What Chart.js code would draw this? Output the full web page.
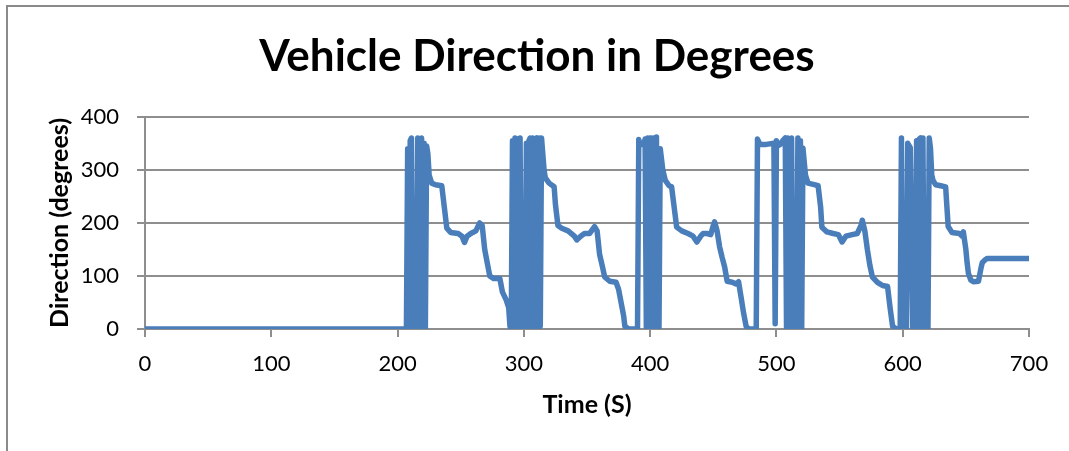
<!DOCTYPE html>
<html>
<head>
<meta charset="utf-8">
<script src="https://cdn.jsdelivr.net/npm/chart.js@4/dist/chart.umd.min.js"></script>
<style>
  html, body { margin: 0; padding: 0; background: #ffffff; }
  #wrap { width: 1069px; height: 451px; position: relative; }
</style>
</head>
<body>
<div id="wrap"><canvas id="c" width="1069" height="451"></canvas></div>
<script>
// Time stamps (seconds) of the heading samples
const timeSec = [
  0, 207,
  208, 209, 210, 211, 212, 215, 216, 217, 218, 219, 220, 221, 222, 223, 224, 225, 227, 230, 235,
  237, 239, 242, 248, 251, 253, 255, 258, 262, 265, 267, 269, 271, 273, 276, 281, 283, 286, 288, 289, 290,
  291, 292, 293, 294, 295, 296, 297, 298, 301, 302, 303, 304, 305, 306, 307, 308, 309, 310, 311, 312, 313, 314,
  315, 316, 317, 320, 324, 325, 327, 330, 335, 340, 342, 345, 348, 352, 356, 358, 360, 362, 364, 368, 373,
  375, 377, 379, 380, 383, 390,
  391, 392, 395, 396, 397, 398, 399, 400, 401, 402, 403, 404, 405, 406, 407, 408, 410, 412, 415, 417, 419,
  421, 425, 430, 434, 437, 440, 442, 445, 448, 450, 451, 453, 455, 457, 459, 461, 465, 468, 470, 472, 474,
  476, 478, 484,
  485, 487, 492, 498, 499, 500, 501, 503, 505, 507, 508, 509, 510, 511, 512, 513, 516, 517, 518, 519, 520,
  521, 523, 525, 530, 533, 535, 536, 540, 545, 549, 552, 555, 560, 564, 567, 568, 570, 572, 574, 576, 580,
  584, 588, 590, 592, 595, 598,
  599, 600, 603, 604, 606, 608, 610, 611, 612, 613, 614, 615, 616, 617, 620, 621, 622, 623, 624, 626, 630,
  634, 635, 636, 639, 645, 647, 648, 650, 651, 652, 654, 656, 660, 662, 663, 665, 667, 700
];

// Vehicle heading in degrees at each time stamp
const directionDeg = [
  0, 0,
  340, 5, 355, 360, 0, 0, 360, 0, 355, 360, 0, 350, 0, 345, 330, 290, 275, 272, 270,
  230, 190, 182, 180, 175, 163, 175, 180, 185, 200, 195, 150, 125, 100, 95, 95, 70, 55, 40, 5, 0,
  355, 0, 360, 2, 358, 0, 360, 0, 0, 350, 0, 355, 360, 0, 360, 0, 358, 360, 0, 360, 5, 360,
  330, 300, 285, 275, 268, 235, 195, 190, 185, 175, 168, 175, 180, 180, 193, 185, 140, 120, 98, 90, 88,
  75, 50, 25, 5, 0, 0,
  357, 348, 348, 358, 0, 360, 0, 360, 360, 0, 360, 0, 362, 0, 0, 340, 300, 280, 270, 268, 230,
  192, 185, 180, 175, 164, 175, 180, 180, 178, 195, 202, 185, 155, 135, 117, 90, 88, 85, 89, 60, 30,
  5, 0, 0,
  358, 348, 348, 350, 10, 355, 345, 348, 355, 360, 0, 360, 0, 355, 360, 0, 0, 360, 0, 355, 0,
  341, 290, 275, 272, 270, 230, 192, 183, 180, 178, 164, 175, 178, 180, 195, 205, 185, 150, 120, 98, 88,
  82, 80, 40, 5, 0, 0,
  360, 0, 0, 350, 342, 0, 0, 355, 0, 358, 360, 0, 360, 0, 0, 360, 340, 290, 280, 272, 270,
  268, 230, 193, 182, 180, 175, 183, 150, 125, 105, 92, 89, 90, 115, 125, 130, 133, 133
];

// Axis tick values
const xTicks = [0, 100, 200, 300, 400, 500, 600, 700];
const yTicks = [0, 100, 200, 300, 400];

const points = timeSec.map((t, i) => ({ x: t, y: directionDeg[i] }));

const FONT = "Lato, 'Open Sans', 'DejaVu Sans', sans-serif";
const GRID = '#8e8e8e';

// Thin frame along the top and left edges of the drawing
const framePlugin = {
  id: 'frame',
  beforeDraw(chart) {
    const ctx = chart.ctx;
    ctx.save();
    ctx.fillStyle = '#ffffff';
    ctx.fillRect(0, 0, chart.width, chart.height);
    ctx.strokeStyle = '#8a8a8a';
    ctx.lineWidth = 2;
    ctx.beginPath();
    ctx.moveTo(7, chart.height);
    ctx.lineTo(7, 6);
    ctx.lineTo(chart.width, 6);
    ctx.stroke();
    ctx.restore();
  }
};

new Chart(document.getElementById('c'), {
  type: 'line',
  data: {
    datasets: [{
      label: 'Direction',
      data: points,
      borderColor: '#4a7ebb',
      borderWidth: 5.5,
      pointRadius: 0,
      tension: 0,
      borderJoinStyle: 'round',
      borderCapStyle: 'round',
      fill: false
    }]
  },
  options: {
    responsive: false,
    animation: false,
    devicePixelRatio: 1,
    layout: { padding: { left: 45, right: 40, top: 30, bottom: 0 } },
    plugins: {
      legend: { display: false },
      tooltip: { enabled: false },
      title: {
        display: true,
        text: 'Vehicle Direction in Degrees',
        color: '#000000',
        font: { family: FONT, size: 44, weight: 'bold', lineHeight: 1.2 },
        padding: { top: 0, bottom: 34 }
      }
    },
    scales: {
      x: {
        type: 'linear',
        min: 0,
        max: 700,
        afterBuildTicks(scale) { scale.ticks = xTicks.map(v => ({ value: v })); },
        afterFit(scale) { scale.height = 122; },
        ticks: {
          color: '#000000',
          font: { family: FONT, size: 22 },
          padding: 14,
          maxRotation: 0
        },
        grid: {
          drawOnChartArea: false,
          drawTicks: true,
          tickLength: 8,
          color: GRID,
          lineWidth: 2
        },
        border: { display: true, color: GRID, width: 2 },
        title: {
          display: true,
          text: 'Time (S)',
          color: '#000000',
          font: { family: FONT, size: 25, weight: 'bold', lineHeight: 1.2 },
          padding: { top: 0, bottom: 31 }
        }
      },
      y: {
        type: 'linear',
        min: 0,
        max: 400,
        afterBuildTicks(scale) { scale.ticks = yTicks.map(v => ({ value: v })); },
        afterFit(scale) { scale.width = 100; },
        ticks: {
          color: '#000000',
          font: { family: FONT, size: 22 },
          padding: 18
        },
        grid: {
          drawOnChartArea: true,
          drawTicks: true,
          tickLength: 8,
          color: GRID,
          lineWidth: 2
        },
        border: { display: true, color: GRID, width: 2 },
        title: {
          display: true,
          text: 'Direction (degrees)',
          color: '#000000',
          font: { family: FONT, size: 25, weight: 'bold', lineHeight: 1.2 },
          padding: { top: 0, bottom: 0 }
        }
      }
    }
  },
  plugins: [framePlugin]
});
</script>
</body>
</html>
